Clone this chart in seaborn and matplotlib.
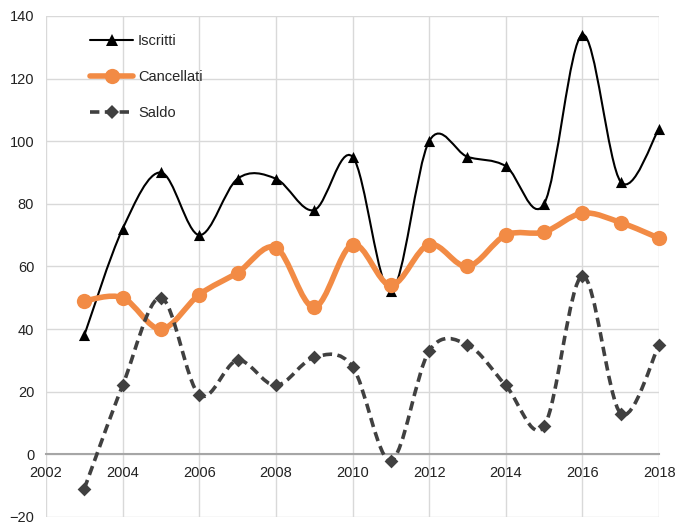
import numpy as np
import pandas as pd
import matplotlib
matplotlib.use("Agg")
import matplotlib.pyplot as plt
import seaborn as sns
from matplotlib.path import Path
from matplotlib.patches import PathPatch
from matplotlib.lines import Line2D

anni = list(range(2003, 2019))
iscritti = [38, 72, 90, 70, 88, 88, 78, 95, 52, 100, 95, 92, 80, 134, 87, 104]
cancellati = [49, 50, 40, 51, 58, 66, 47, 67, 54, 67, 60, 70, 71, 77, 74, 69]
saldo = [-11, 22, 50, 19, 30, 22, 31, 28, -2, 33, 35, 22, 9, 57, 13, 35]

x_ticks = list(range(2002, 2019, 2))
y_ticks = list(range(-20, 141, 20))

sns.set_theme(style="white")
plt.rcParams['font.family'] = ['Liberation Sans', 'DejaVu Sans']


def smooth_path(x, y):
    # excel-like smoothed line: cubic bezier through the points
    pts = np.column_stack([x, y]).astype(float)
    n = len(pts)
    verts = [pts[0]]
    codes = [Path.MOVETO]
    for i in range(n - 1):
        p0 = pts[max(i - 1, 0)]
        p1 = pts[i]
        p2 = pts[i + 1]
        p3 = pts[min(i + 2, n - 1)]
        verts += [p1 + (p2 - p0) / 6, p2 - (p3 - p1) / 6, p2]
        codes += [Path.CURVE4] * 3
    return Path(verts, codes)


df = pd.DataFrame({"Anno": anni, "Iscritti": iscritti,
                   "Cancellati": cancellati, "Saldo": saldo})

series = [
    ("Iscritti", "black", 1.5, "-", "^", 8),
    ("Cancellati", "#F28B45", 4.0, "-", "o", 11),
    ("Saldo", "#404040", 2.6, (0, (2.6, 1.5)), "D", 7),
]

fig = plt.figure(figsize=(6.76, 5.22), dpi=100)
ax = fig.add_axes([0.068, 0.0096, 0.907, 0.96])

handles = []
for name, color, lw, ls, marker, ms in series:
    ax.add_patch(PathPatch(smooth_path(df["Anno"], df[name]), facecolor="none",
                           edgecolor=color, linewidth=lw, linestyle=ls,
                           capstyle="butt", zorder=3, clip_on=False))
    sns.scatterplot(data=df, x="Anno", y=name, ax=ax, color=color, marker=marker,
                    s=ms ** 2, edgecolor=color, linewidth=0, zorder=4,
                    clip_on=False, legend=False)
    handles.append(Line2D([], [], color=color, linewidth=lw, linestyle=ls,
                          marker=marker, markersize=ms, markeredgewidth=0,
                          label=name))

ax.set_xlim(2002, 2018)
ax.set_ylim(-20, 140)
ax.set_xticks(x_ticks)
ax.set_yticks(y_ticks)
ax.set_xlabel("")
ax.set_ylabel("")
ax.grid(True, color="#d9d9d9", linewidth=1)
ax.set_axisbelow(True)

for side in ["left", "right", "top"]:
    ax.spines[side].set_visible(False)
ax.spines["bottom"].set_position(("data", 0))
ax.spines["bottom"].set_color("#a6a6a6")
ax.spines["bottom"].set_linewidth(1.5)
ax.spines["bottom"].set_zorder(2)

ax.tick_params(axis="both", length=0, labelsize=10.5, colors="#222222")
ax.tick_params(axis="x", pad=8.5)
ax.tick_params(axis="y", pad=8.5)

ax.legend(handles=handles, frameon=False, loc="upper left",
          bbox_to_anchor=(0.05, 0.99), labelspacing=1.5, handlelength=3.0,
          handletextpad=0.3, fontsize=10.5)

fig.savefig("out.png", dpi=100)
